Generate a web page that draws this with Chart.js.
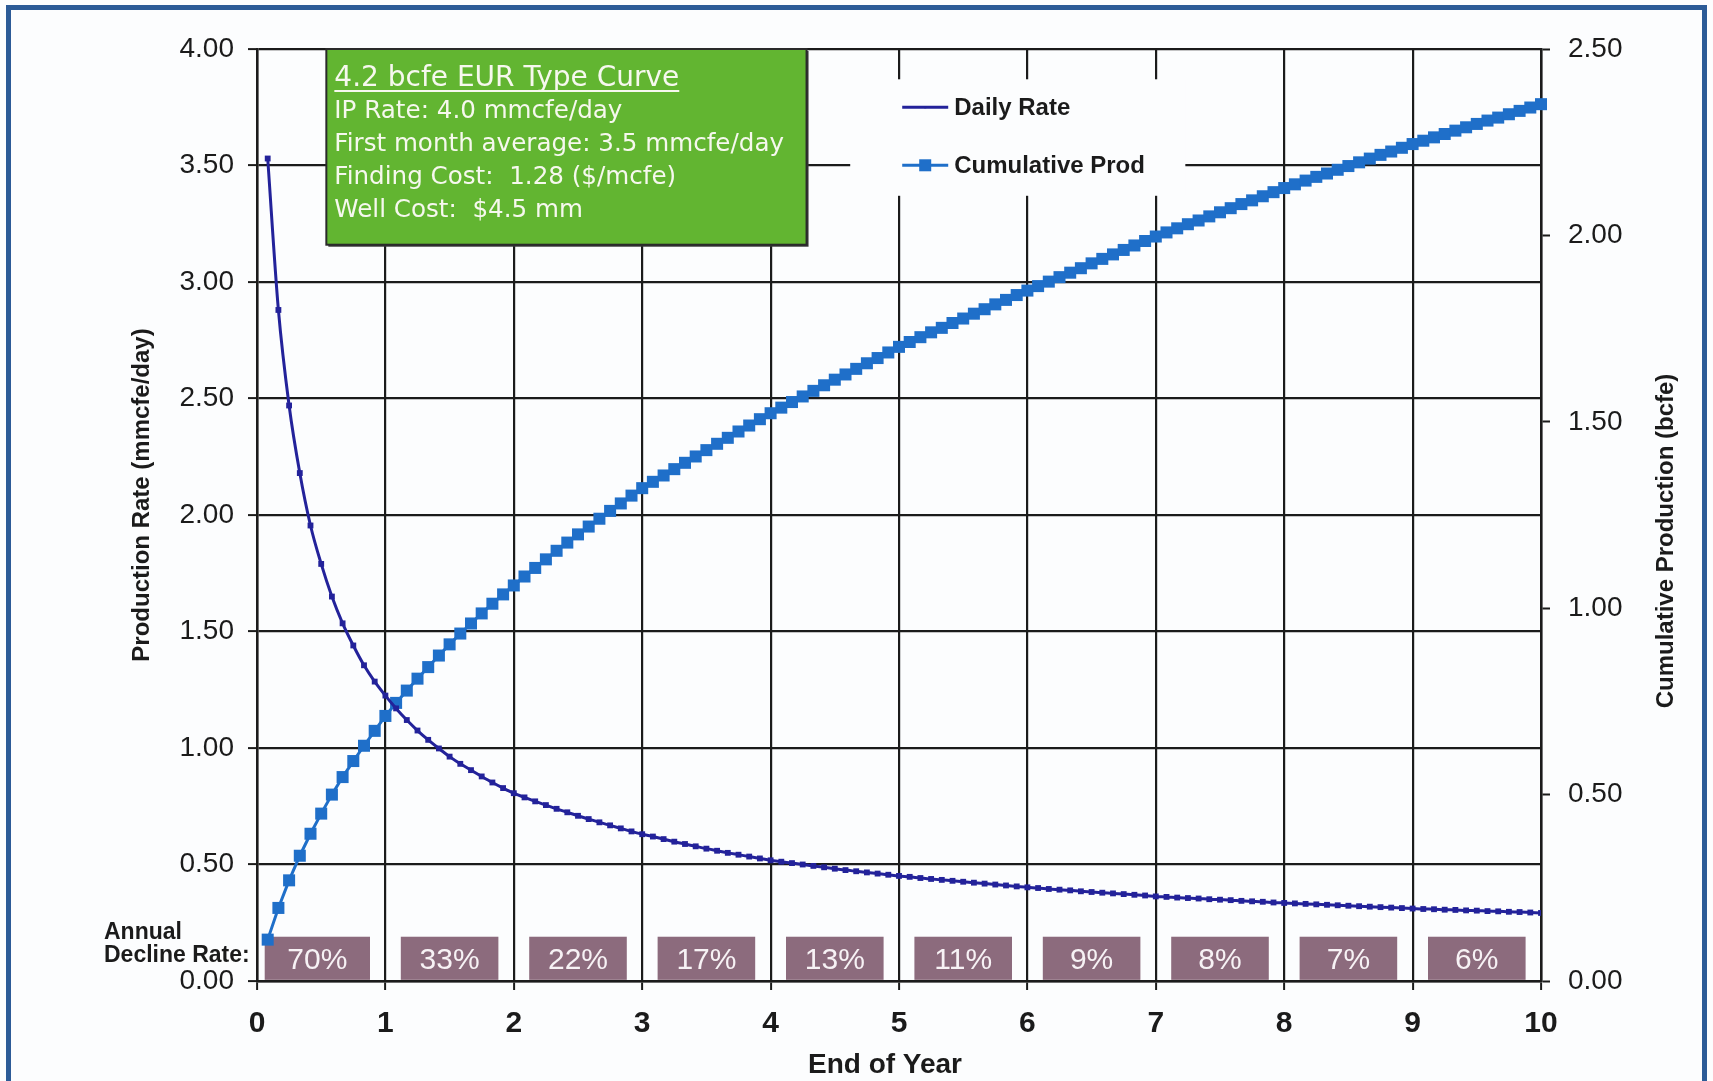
<!DOCTYPE html>
<html>
<head>
<meta charset="utf-8">
<title>4.2 bcfe EUR Type Curve</title>
<script src="https://cdn.jsdelivr.net/npm/chart.js@4.4.1/dist/chart.umd.min.js"></script>
<style>
  html, body { margin: 0; padding: 0; background: #fcfdfe; overflow: hidden; }
  #wrap { position: relative; width: 1713px; height: 1081px; }
  #frame { position: absolute; left: 6px; top: 5px; width: 1691px; height: 1200px;
           border: 5px solid #2c5b97; border-bottom: none; pointer-events: none; }
  canvas { display: block; }
</style>
</head>
<body>
<div id="wrap">
  <canvas id="type-curve" width="1713" height="1081"></canvas>
  <div id="frame"></div>
</div>
<script>
// monthly values, month 1..120 (plotted at end of month, in years)
var dailyRate = [
  3.53, 2.88, 2.47, 2.18, 1.955, 1.79, 1.65, 1.535, 1.44, 1.355, 1.285, 1.225,
  1.17, 1.12, 1.075, 1.035, 0.998, 0.963, 0.932, 0.905, 0.878, 0.852, 0.828, 0.806,
  0.788, 0.771, 0.755, 0.739, 0.724, 0.709, 0.695, 0.681, 0.668, 0.655, 0.642, 0.630,
  0.620, 0.609, 0.598, 0.588, 0.578, 0.568, 0.559, 0.550, 0.542, 0.534, 0.526, 0.518,
  0.512, 0.506, 0.500, 0.494, 0.488, 0.482, 0.476, 0.471, 0.466, 0.461, 0.456, 0.451,
  0.447, 0.442, 0.438, 0.434, 0.430, 0.426, 0.422, 0.418, 0.414, 0.410, 0.406, 0.402,
  0.399, 0.395, 0.392, 0.389, 0.385, 0.382, 0.379, 0.376, 0.373, 0.370, 0.367, 0.363,
  0.361, 0.358, 0.356, 0.354, 0.351, 0.349, 0.347, 0.344, 0.342, 0.340, 0.337, 0.335,
  0.333, 0.331, 0.329, 0.327, 0.325, 0.323, 0.321, 0.319, 0.317, 0.315, 0.313, 0.311,
  0.309, 0.308, 0.306, 0.305, 0.303, 0.302, 0.300, 0.299, 0.297, 0.296, 0.294, 0.292
];

var cumulativeProd = [
  0.111, 0.196, 0.270, 0.336, 0.395, 0.449, 0.500, 0.547, 0.590, 0.631, 0.671, 0.711,
  0.746, 0.779, 0.811, 0.842, 0.873, 0.903, 0.932, 0.959, 0.986, 1.012, 1.037, 1.061,
  1.085, 1.108, 1.131, 1.154, 1.176, 1.198, 1.219, 1.240, 1.261, 1.281, 1.302, 1.322,
  1.339, 1.356, 1.373, 1.390, 1.407, 1.424, 1.441, 1.457, 1.474, 1.490, 1.507, 1.523,
  1.538, 1.553, 1.568, 1.583, 1.598, 1.613, 1.627, 1.642, 1.657, 1.671, 1.686, 1.701,
  1.714, 1.727, 1.740, 1.752, 1.765, 1.777, 1.790, 1.802, 1.815, 1.827, 1.840, 1.852,
  1.864, 1.876, 1.888, 1.900, 1.912, 1.925, 1.937, 1.949, 1.961, 1.973, 1.985, 1.997,
  2.008, 2.019, 2.030, 2.040, 2.051, 2.062, 2.073, 2.084, 2.094, 2.105, 2.116, 2.127,
  2.137, 2.147, 2.157, 2.166, 2.176, 2.186, 2.196, 2.206, 2.216, 2.225, 2.235, 2.245,
  2.254, 2.263, 2.272, 2.281, 2.290, 2.299, 2.308, 2.316, 2.325, 2.334, 2.343, 2.352
];

// annual decline rate for each year 1..10
var declineRates = ["70%", "33%", "22%", "17%", "13%", "11%", "9%", "8%", "7%", "6%"];

var infoTitle = "4.2 bcfe EUR Type Curve";
var infoLines = [
  "IP Rate: 4.0 mmcfe/day",
  "First month average: 3.5 mmcfe/day",
  "Finding Cost:  1.28 ($/mcfe)",
  "Well Cost:  $4.5 mm"
];

(function () {
  var INK = "#1b1b1b";
  var RATE_COLOR = "#23229a";
  var CUM_COLOR = "#1f6fc9";
  var SANS = "'Liberation Sans', Arial, sans-serif";

  function toPoints(values) {
    return values.map(function (v, i) {
      return { x: (i + 1) / 12, y: v };
    });
  }

  var decor = {
    id: "decor",
    beforeDatasetsDraw: function (chart) {
      var ctx = chart.ctx;
      var xs = chart.scales.x;
      var ys = chart.scales.y;
      var area = chart.chartArea;
      ctx.save();

      // annual decline boxes
      var top = ys.getPixelForValue(0.19);
      var bottom = ys.getPixelForValue(0.005);
      declineRates.forEach(function (label, i) {
        var left = xs.getPixelForValue(i + (i === 0 ? 0.06 : 0.12));
        var right = xs.getPixelForValue(i + 0.88);
        ctx.fillStyle = "#8c6b7d";
        ctx.fillRect(left, top, right - left, bottom - top);
        ctx.fillStyle = "#f7f2f5";
        ctx.font = "30px " + SANS;
        ctx.textAlign = "center";
        ctx.textBaseline = "middle";
        ctx.fillText(label, (left + right) / 2, (top + bottom) / 2 + 2);
      });

      // green info box
      var gl = xs.getPixelForValue(0.54);
      var gr = xs.getPixelForValue(4.28);
      var gt = area.top;
      var gb = ys.getPixelForValue(3.16);
      ctx.fillStyle = "#3a3a3a";
      ctx.fillRect(gl + 2, gt + 2, gr - gl, gb - gt);
      ctx.fillStyle = "#62b531";
      ctx.fillRect(gl, gt, gr - gl, gb - gt);
      ctx.strokeStyle = "#2a2a2a";
      ctx.lineWidth = 2;
      ctx.strokeRect(gl, gt, gr - gl, gb - gt);

      ctx.fillStyle = "#f6f8ee";
      ctx.textAlign = "left";
      ctx.textBaseline = "alphabetic";
      ctx.font = "28px 'DejaVu Sans', Verdana, sans-serif";
      var tx = gl + 8;
      ctx.fillText(infoTitle, tx, gt + 37);
      var tw = ctx.measureText(infoTitle).width;
      ctx.fillRect(tx, gt + 41, tw, 2);
      ctx.font = "24.6px 'DejaVu Sans', Verdana, sans-serif";
      infoLines.forEach(function (line, i) {
        ctx.fillText(line, tx, gt + 69 + i * 33);
      });

      // legend
      var ll = xs.getPixelForValue(4.62);
      var lr = xs.getPixelForValue(7.23);
      var lt = ys.getPixelForValue(3.87);
      var lb = ys.getPixelForValue(3.37);
      ctx.fillStyle = "#fcfdfe";
      ctx.fillRect(ll, lt, lr - ll, lb - lt);
      var rows = [
        { label: "Daily Rate", color: RATE_COLOR, y: lt + 28, marker: 2 },
        { label: "Cumulative Prod", color: CUM_COLOR, y: lt + 86, marker: 12 }
      ];
      rows.forEach(function (r) {
        ctx.strokeStyle = r.color;
        ctx.lineWidth = 3;
        ctx.beginPath();
        ctx.moveTo(ll + 52, r.y);
        ctx.lineTo(ll + 98, r.y);
        ctx.stroke();
        ctx.fillStyle = r.color;
        ctx.fillRect(ll + 75 - r.marker / 2, r.y - r.marker / 2, r.marker, r.marker);
        ctx.fillStyle = INK;
        ctx.font = "bold 24px " + SANS;
        ctx.textBaseline = "middle";
        ctx.fillText(r.label, ll + 104, r.y + 1);
      });
      ctx.restore();
    },
    afterDraw: function (chart) {
      var ctx = chart.ctx;
      ctx.save();
      ctx.fillStyle = INK;
      ctx.textBaseline = "middle";

      ctx.font = "bold 23px " + SANS;
      ctx.textAlign = "left";
      ctx.fillText("Annual", 104, 933);
      ctx.fillText("Decline Rate:", 104, 956);

      ctx.font = "bold 28px " + SANS;
      ctx.textAlign = "center";
      ctx.fillText("End of Year", 885, 1065);

      ctx.font = "bold 24px " + SANS;
      ctx.save();
      ctx.translate(142, 495);
      ctx.rotate(-Math.PI / 2);
      ctx.fillText("Production Rate (mmcfe/day)", 0, 0);
      ctx.restore();
      ctx.save();
      ctx.translate(1666, 541);
      ctx.rotate(-Math.PI / 2);
      ctx.fillText("Cumulative Production (bcfe)", 0, 0);
      ctx.restore();
      ctx.restore();
    }
  };

  function fixed2(v) {
    return Number(v).toFixed(2);
  }

  var gridStyle = { color: INK, lineWidth: 2.2, tickLength: 9, tickColor: INK, tickWidth: 2 };

  new Chart(document.getElementById("type-curve"), {
    type: "line",
    data: {
      datasets: [
        {
          label: "Daily Rate",
          data: toPoints(dailyRate),
          yAxisID: "y",
          borderColor: RATE_COLOR,
          backgroundColor: RATE_COLOR,
          borderWidth: 3,
          pointStyle: "rect",
          pointRadius: 2,
          cubicInterpolationMode: "monotone",
          fill: false
        },
        {
          label: "Cumulative Prod",
          data: toPoints(cumulativeProd),
          yAxisID: "y2",
          borderColor: CUM_COLOR,
          backgroundColor: CUM_COLOR,
          borderWidth: 3,
          pointStyle: "rect",
          pointRadius: 8.5,
          pointBorderWidth: 0,
          fill: false,
          clip: false
        }
      ]
    },
    options: {
      responsive: false,
      animation: false,
      layout: { padding: { top: 49, left: 0, right: 0, bottom: 0 } },
      plugins: {
        legend: { display: false },
        tooltip: { enabled: false }
      },
      scales: {
        x: {
          type: "linear",
          min: 0,
          max: 10,
          ticks: {
            stepSize: 1,
            color: INK,
            padding: 16,
            maxRotation: 0,
            font: { family: SANS, size: 30, weight: "bold" }
          },
          grid: gridStyle,
          border: { color: INK, width: 2.5 },
          afterFit: function (scale) { scale.height = 100; }
        },
        y: {
          position: "left",
          min: 0,
          max: 4,
          ticks: {
            stepSize: 0.5,
            color: INK,
            padding: 14,
            callback: fixed2,
            font: { family: SANS, size: 28 }
          },
          grid: gridStyle,
          border: { color: INK, width: 2.5 },
          afterFit: function (scale) { scale.width = 257; }
        },
        y2: {
          position: "right",
          min: 0,
          max: 2.5,
          ticks: {
            stepSize: 0.5,
            color: INK,
            padding: 18,
            callback: fixed2,
            font: { family: SANS, size: 28 }
          },
          grid: { drawOnChartArea: false, tickLength: 9, tickColor: INK, tickWidth: 2 },
          border: { color: INK, width: 2.5 },
          afterFit: function (scale) { scale.width = 172; }
        }
      }
    },
    plugins: [decor]
  });
})();
</script>
</body>
</html>
